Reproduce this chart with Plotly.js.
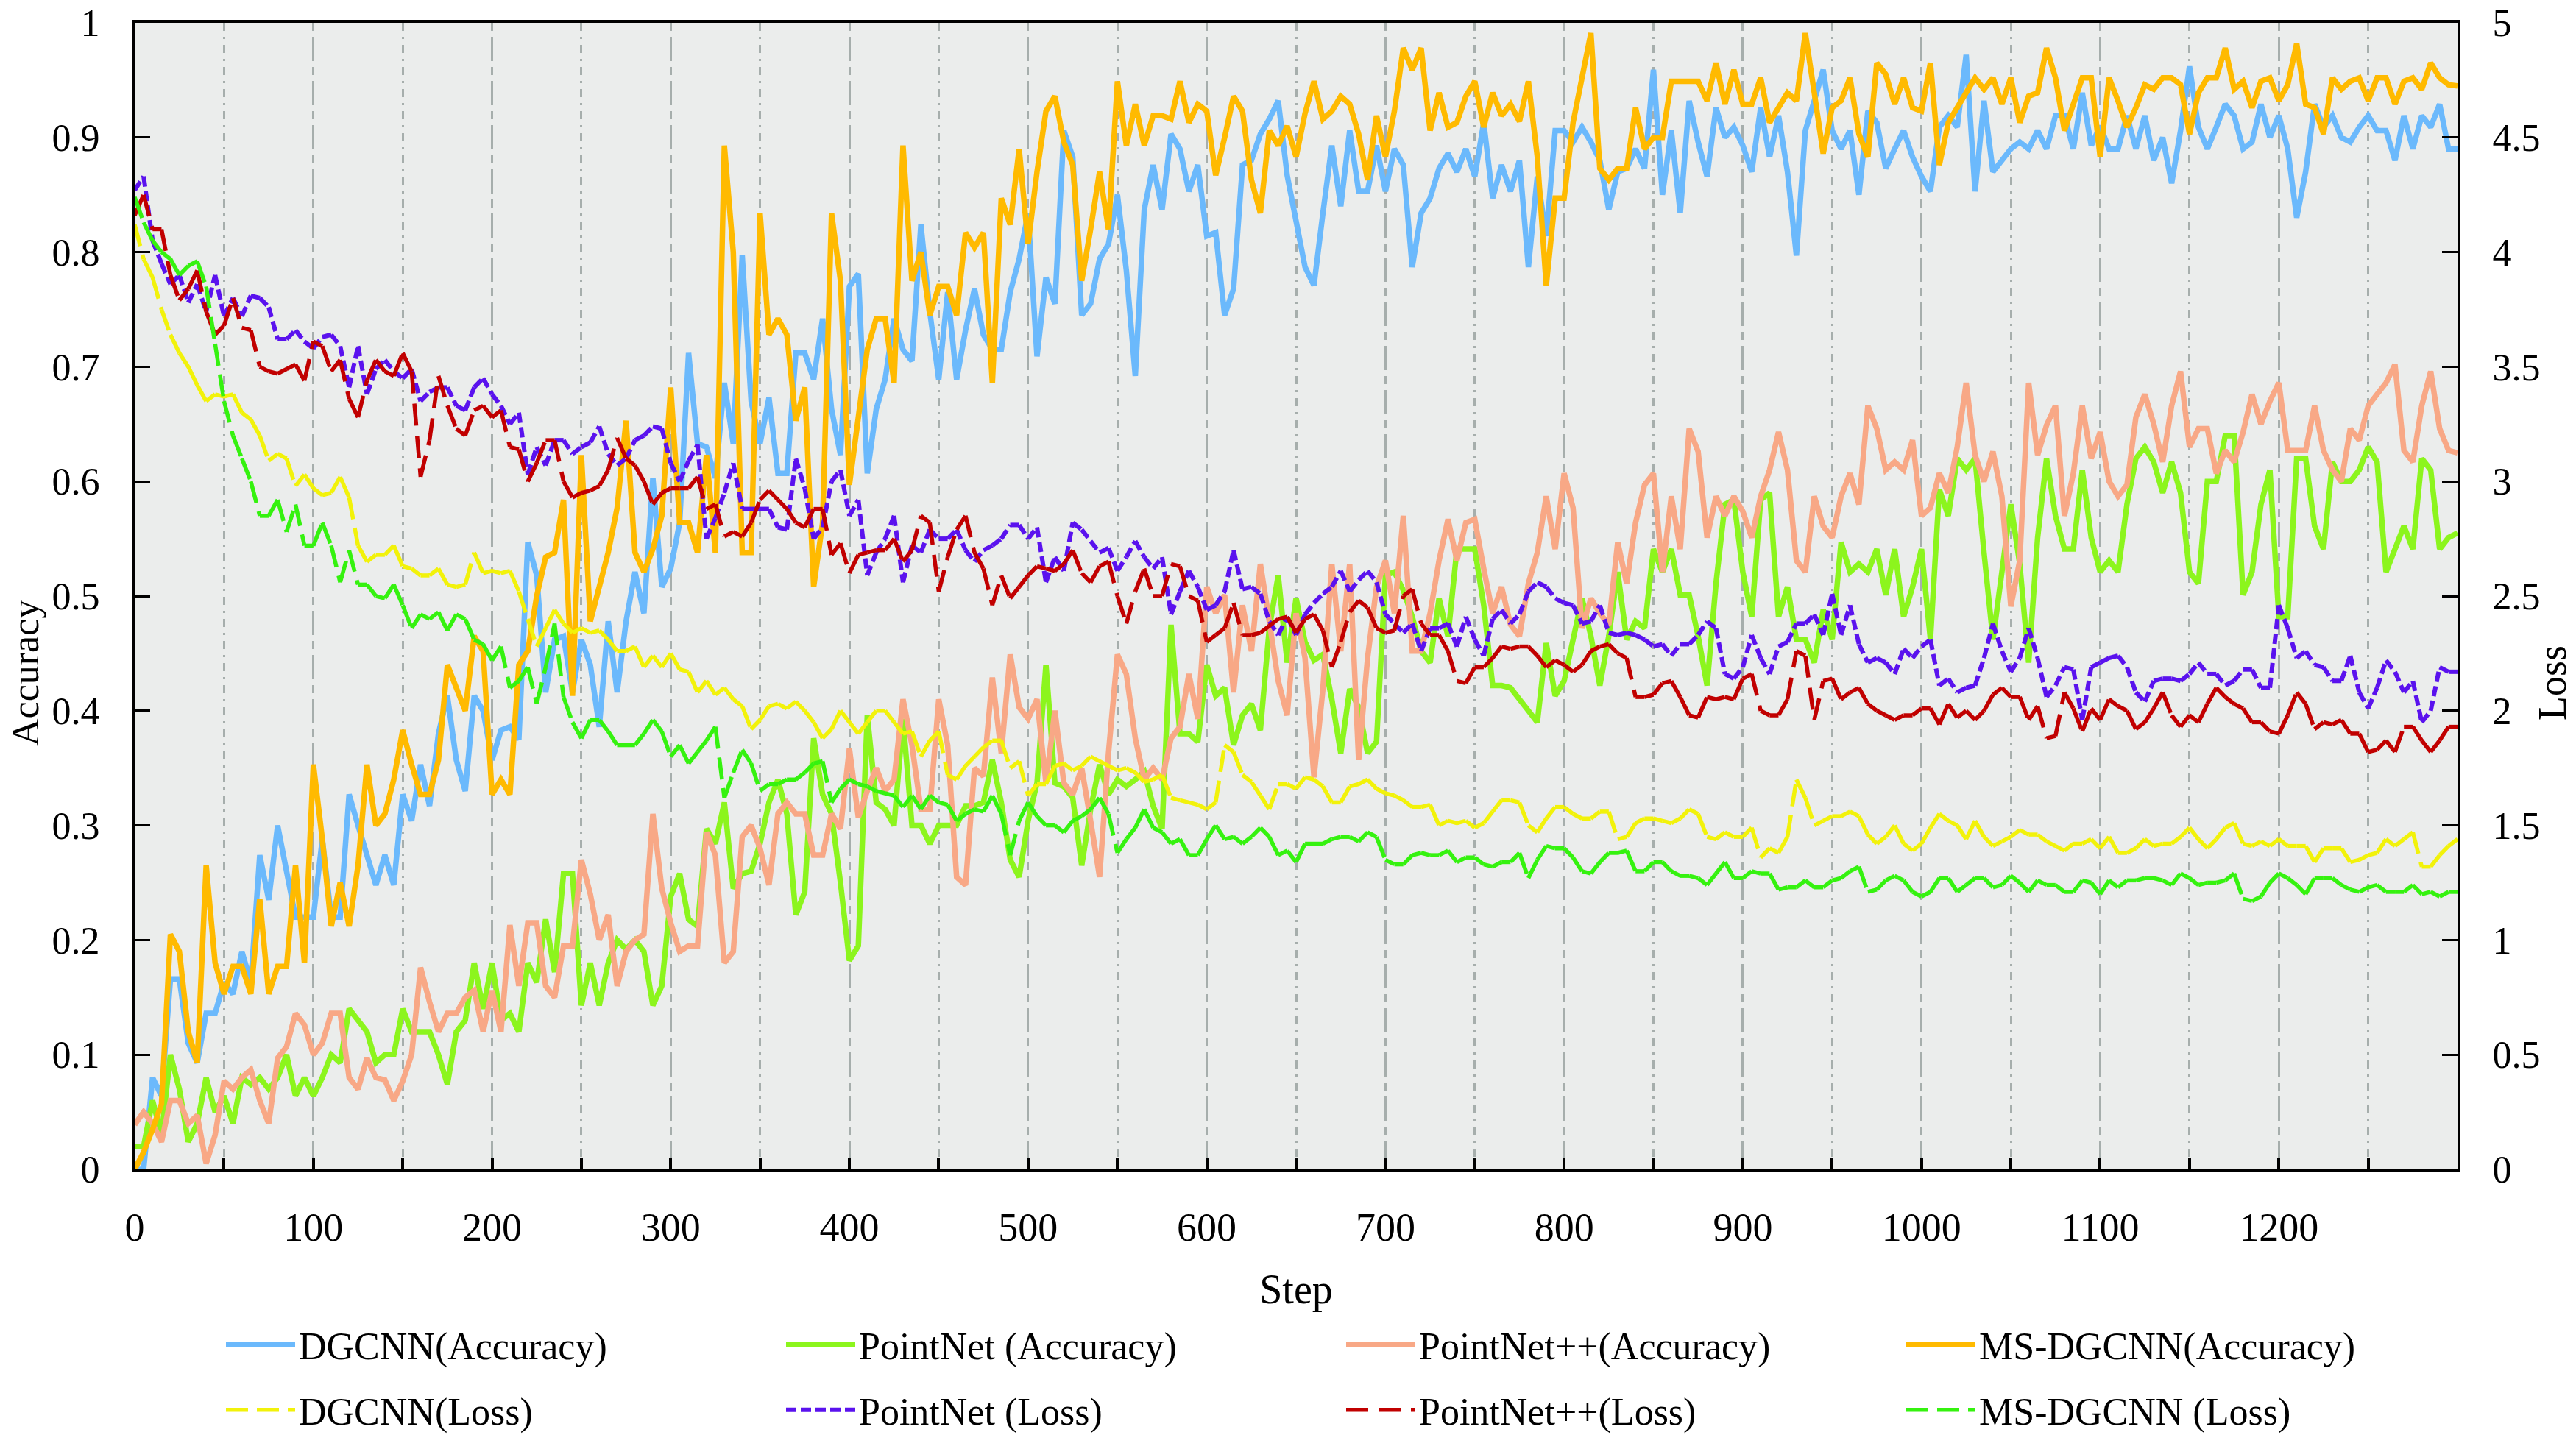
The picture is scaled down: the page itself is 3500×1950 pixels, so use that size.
<!DOCTYPE html>
<html>
<head>
<meta charset="utf-8">
<script src="https://cdn.plot.ly/plotly-3.0.1.min.js"></script>
<style>
html,body{margin:0;padding:0;background:#ffffff;}
#chart{width:3500px;height:1950px;}
</style>
</head>
<body>
<div id="chart"></div>
<script>
// ---- data (one value every 5 steps, step 0 .. 1300) ----
const STEP_INTERVAL = 5;
const xTickVals = [0,100,200,300,400,500,600,700,800,900,1000,1100,1200];
const accTickVals = [0,0.1,0.2,0.3,0.4,0.5,0.6,0.7,0.8,0.9,1];
const lossTickVals = [0,0.5,1,1.5,2,2.5,3,3.5,4,4.5,5];

const dgcnnAcc = [
0.0,0.0,0.08,0.064,0.166,0.166,0.11,0.093,0.136,0.136,
0.163,0.153,0.19,0.163,0.274,0.235,0.30,0.26,0.22,0.22,
0.22,0.288,0.22,0.22,0.327,0.30,0.274,0.248,0.274,0.248,
0.327,0.304,0.353,0.317,0.38,0.413,0.357,0.33,0.413,0.40,
0.357,0.383,0.386,0.375,0.547,0.518,0.416,0.462,0.465,0.416,
0.462,0.44,0.386,0.478,0.416,0.478,0.521,0.485,0.603,0.508,
0.524,0.564,0.712,0.633,0.63,0.603,0.686,0.633,0.797,0.67,
0.633,0.673,0.607,0.607,0.712,0.712,0.689,0.742,0.663,0.623,
0.77,0.781,0.607,0.663,0.689,0.742,0.715,0.705,0.824,0.748,
0.689,0.765,0.689,0.732,0.768,0.728,0.715,0.715,0.765,0.794,
0.834,0.709,0.778,0.755,0.906,0.883,0.745,0.755,0.794,0.807,
0.85,0.784,0.692,0.837,0.876,0.837,0.903,0.89,0.853,0.876,
0.814,0.817,0.745,0.768,0.876,0.88,0.903,0.916,0.932,0.867,
0.827,0.787,0.771,0.834,0.893,0.84,0.906,0.853,0.853,0.893,
0.853,0.89,0.876,0.787,0.834,0.847,0.873,0.886,0.87,0.89,
0.866,0.913,0.847,0.876,0.853,0.88,0.787,0.866,0.814,0.906,
0.906,0.896,0.909,0.896,0.88,0.837,0.87,0.873,0.89,0.873,
0.959,0.85,0.906,0.834,0.932,0.896,0.866,0.926,0.9,0.909,
0.893,0.87,0.926,0.883,0.919,0.87,0.797,0.906,0.932,0.959,
0.906,0.89,0.906,0.85,0.923,0.913,0.873,0.89,0.906,0.883,
0.866,0.853,0.909,0.919,0.909,0.972,0.853,0.932,0.87,0.88,
0.89,0.896,0.89,0.906,0.89,0.919,0.919,0.89,0.939,0.893,
0.91,0.89,0.89,0.919,0.89,0.919,0.88,0.9,0.86,0.906,
0.962,0.909,0.89,0.909,0.929,0.919,0.89,0.896,0.929,0.9,
0.919,0.89,0.83,0.87,0.929,0.909,0.919,0.9,0.896,0.909,
0.919,0.906,0.906,0.88,0.919,0.89,0.919,0.909,0.929,0.89,
0.89];

const pointnetAcc = [
0.02,0.02,0.06,0.03,0.10,0.07,0.024,0.04,0.08,0.05,
0.064,0.04,0.08,0.074,0.08,0.07,0.08,0.10,0.064,0.08,
0.064,0.08,0.10,0.093,0.14,0.13,0.12,0.093,0.10,0.10,
0.14,0.12,0.12,0.12,0.10,0.074,0.12,0.13,0.18,0.14,
0.18,0.13,0.136,0.12,0.18,0.163,0.218,0.172,0.258,0.258,
0.143,0.18,0.143,0.18,0.2,0.192,0.2,0.19,0.143,0.16,
0.238,0.258,0.218,0.212,0.297,0.284,0.32,0.245,0.258,0.26,
0.284,0.32,0.34,0.31,0.222,0.242,0.376,0.327,0.31,0.25,
0.182,0.195,0.396,0.32,0.314,0.30,0.393,0.30,0.30,0.284,
0.30,0.30,0.30,0.317,0.317,0.32,0.357,0.32,0.27,0.255,
0.304,0.337,0.44,0.337,0.334,0.324,0.265,0.314,0.353,0.327,
0.34,0.334,0.34,0.347,0.317,0.297,0.475,0.38,0.38,0.373,
0.44,0.413,0.42,0.37,0.396,0.406,0.383,0.472,0.518,0.442,
0.498,0.46,0.444,0.449,0.41,0.363,0.419,0.403,0.363,0.373,
0.518,0.521,0.505,0.482,0.452,0.442,0.498,0.465,0.541,0.541,
0.541,0.492,0.422,0.422,0.42,0.41,0.40,0.39,0.459,0.413,
0.426,0.462,0.498,0.465,0.422,0.465,0.521,0.462,0.478,0.472,
0.541,0.521,0.541,0.501,0.501,0.465,0.422,0.511,0.58,0.584,
0.521,0.482,0.584,0.59,0.482,0.508,0.462,0.462,0.442,0.488,
0.462,0.547,0.521,0.528,0.521,0.541,0.501,0.541,0.482,0.508,
0.541,0.462,0.593,0.57,0.62,0.61,0.62,0.538,0.462,0.521,
0.58,0.528,0.442,0.551,0.62,0.57,0.541,0.541,0.61,0.551,
0.521,0.531,0.521,0.58,0.62,0.63,0.617,0.59,0.617,0.59,
0.521,0.511,0.6,0.6,0.64,0.64,0.501,0.521,0.58,0.61,
0.482,0.482,0.62,0.62,0.561,0.541,0.617,0.6,0.6,0.61,
0.63,0.617,0.521,0.541,0.561,0.541,0.62,0.61,0.541,0.551,
0.555];

const pointnet2Acc = [
0.039,0.05,0.04,0.024,0.06,0.06,0.04,0.047,0.005,0.03,
0.077,0.07,0.08,0.087,0.06,0.04,0.097,0.107,0.136,0.126,
0.10,0.11,0.136,0.136,0.08,0.07,0.097,0.08,0.078,0.06,
0.077,0.10,0.176,0.146,0.12,0.136,0.136,0.15,0.156,0.12,
0.156,0.12,0.213,0.16,0.215,0.215,0.16,0.15,0.195,0.195,
0.27,0.24,0.2,0.222,0.16,0.19,0.2,0.205,0.31,0.245,
0.215,0.19,0.195,0.195,0.294,0.274,0.18,0.19,0.29,0.30,
0.28,0.248,0.31,0.32,0.31,0.31,0.274,0.274,0.31,0.297,
0.367,0.307,0.33,0.35,0.33,0.34,0.41,0.37,0.314,0.314,
0.41,0.37,0.255,0.248,0.35,0.343,0.429,0.363,0.449,0.403,
0.393,0.41,0.337,0.4,0.337,0.327,0.35,0.304,0.255,0.363,
0.449,0.432,0.376,0.34,0.35,0.34,0.376,0.386,0.432,0.393,
0.508,0.485,0.501,0.416,0.492,0.452,0.528,0.478,0.426,0.396,
0.485,0.446,0.342,0.419,0.528,0.452,0.528,0.357,0.446,0.508,
0.531,0.485,0.57,0.452,0.452,0.485,0.531,0.567,0.531,0.564,
0.567,0.524,0.485,0.508,0.475,0.465,0.511,0.538,0.587,0.541,
0.607,0.577,0.472,0.498,0.485,0.475,0.547,0.511,0.564,0.597,
0.607,0.521,0.587,0.541,0.646,0.626,0.551,0.587,0.57,0.587,
0.574,0.551,0.587,0.61,0.643,0.61,0.531,0.521,0.587,0.561,
0.551,0.587,0.607,0.58,0.666,0.646,0.61,0.617,0.61,0.636,
0.57,0.577,0.607,0.59,0.63,0.686,0.623,0.6,0.626,0.587,
0.491,0.531,0.686,0.623,0.649,0.666,0.57,0.607,0.666,0.62,
0.643,0.6,0.587,0.597,0.656,0.676,0.65,0.617,0.666,0.696,
0.63,0.646,0.646,0.607,0.627,0.617,0.643,0.676,0.65,0.67,
0.686,0.627,0.627,0.627,0.666,0.627,0.61,0.6,0.646,0.636,
0.666,0.676,0.686,0.702,0.627,0.617,0.666,0.696,0.646,0.627,
0.625];

const msdgcnnAcc = [
0.0,0.015,0.035,0.057,0.205,0.19,0.12,0.093,0.265,0.18,
0.153,0.177,0.177,0.153,0.236,0.153,0.177,0.177,0.265,0.18,
0.353,0.288,0.212,0.25,0.212,0.265,0.353,0.30,0.31,0.34,
0.383,0.353,0.327,0.327,0.357,0.44,0.42,0.40,0.465,0.452,
0.327,0.34,0.327,0.44,0.452,0.50,0.534,0.538,0.584,0.413,
0.623,0.478,0.508,0.538,0.577,0.653,0.538,0.521,0.541,0.57,
0.682,0.564,0.564,0.538,0.623,0.538,0.893,0.80,0.538,0.538,
0.834,0.728,0.742,0.728,0.653,0.682,0.508,0.564,0.834,0.775,
0.597,0.656,0.715,0.742,0.742,0.686,0.893,0.775,0.80,0.745,
0.77,0.77,0.745,0.817,0.804,0.817,0.686,0.847,0.824,0.89,
0.807,0.87,0.923,0.936,0.896,0.876,0.775,0.82,0.87,0.82,
0.949,0.893,0.929,0.893,0.919,0.919,0.916,0.949,0.913,0.929,
0.923,0.867,0.9,0.936,0.923,0.863,0.834,0.906,0.893,0.91,
0.883,0.921,0.949,0.916,0.923,0.936,0.929,0.903,0.863,0.919,
0.883,0.923,0.978,0.959,0.978,0.906,0.939,0.909,0.913,0.936,
0.949,0.909,0.939,0.919,0.929,0.914,0.949,0.883,0.771,0.847,
0.847,0.913,0.952,0.991,0.873,0.863,0.873,0.873,0.926,0.89,
0.9,0.9,0.949,0.949,0.949,0.949,0.932,0.965,0.929,0.959,
0.929,0.929,0.952,0.913,0.926,0.939,0.932,0.991,0.939,0.886,
0.926,0.932,0.952,0.903,0.883,0.965,0.955,0.929,0.952,0.926,
0.923,0.965,0.876,0.913,0.926,0.939,0.952,0.942,0.952,0.929,
0.952,0.913,0.936,0.939,0.978,0.952,0.906,0.929,0.952,0.952,
0.883,0.952,0.932,0.909,0.926,0.946,0.942,0.952,0.952,0.946,
0.903,0.939,0.952,0.952,0.978,0.942,0.949,0.926,0.949,0.952,
0.932,0.946,0.982,0.929,0.926,0.903,0.952,0.942,0.949,0.952,
0.932,0.952,0.952,0.929,0.949,0.952,0.942,0.965,0.952,0.946,
0.945];

const dgcnnLoss = [
4.12,3.97,3.89,3.75,3.64,3.56,3.5,3.42,3.35,3.38,
3.37,3.38,3.3,3.27,3.2,3.09,3.12,3.1,2.98,3.03,
2.97,2.94,2.95,3.02,2.93,2.72,2.65,2.68,2.68,2.72,
2.63,2.62,2.59,2.59,2.62,2.55,2.54,2.55,2.69,2.6,
2.61,2.6,2.61,2.52,2.4,2.28,2.36,2.44,2.38,2.34,
2.36,2.34,2.35,2.31,2.26,2.26,2.28,2.19,2.24,2.19,
2.25,2.18,2.17,2.08,2.13,2.07,2.1,2.05,2.02,1.92,
1.96,2.02,2.03,2.01,2.04,2.0,1.95,1.88,1.92,2.0,
1.95,1.9,1.95,2.0,2.0,1.95,1.9,1.91,1.8,1.87,
1.91,1.72,1.7,1.76,1.8,1.84,1.87,1.87,1.75,1.78,
1.63,1.68,1.68,1.76,1.77,1.74,1.76,1.8,1.78,1.76,
1.74,1.75,1.73,1.69,1.7,1.72,1.62,1.61,1.6,1.59,
1.57,1.6,1.85,1.82,1.72,1.69,1.63,1.57,1.68,1.68,
1.66,1.71,1.7,1.67,1.6,1.6,1.67,1.68,1.7,1.66,
1.64,1.63,1.61,1.58,1.58,1.59,1.5,1.52,1.51,1.52,
1.49,1.51,1.56,1.61,1.61,1.6,1.5,1.47,1.53,1.58,
1.58,1.55,1.53,1.53,1.56,1.56,1.44,1.45,1.51,1.53,
1.53,1.52,1.51,1.53,1.57,1.55,1.45,1.44,1.47,1.45,
1.45,1.49,1.36,1.4,1.38,1.45,1.7,1.62,1.5,1.52,
1.54,1.54,1.56,1.54,1.46,1.42,1.45,1.5,1.42,1.39,
1.42,1.49,1.55,1.52,1.5,1.44,1.52,1.45,1.41,1.43,
1.45,1.48,1.46,1.46,1.43,1.41,1.39,1.42,1.42,1.44,
1.4,1.45,1.38,1.38,1.4,1.44,1.41,1.42,1.42,1.45,
1.49,1.44,1.4,1.44,1.49,1.51,1.42,1.41,1.43,1.41,
1.44,1.41,1.41,1.41,1.34,1.4,1.4,1.4,1.34,1.35,
1.37,1.38,1.44,1.41,1.44,1.47,1.32,1.32,1.37,1.41,
1.44];

const pointnetLoss = [
4.27,4.33,4.05,3.95,3.86,3.9,3.78,3.86,3.74,3.9,
3.72,3.8,3.72,3.81,3.8,3.76,3.62,3.62,3.66,3.61,
3.58,3.63,3.64,3.59,3.41,3.59,3.38,3.49,3.53,3.48,
3.45,3.49,3.35,3.39,3.41,3.41,3.33,3.31,3.41,3.45,
3.38,3.33,3.25,3.3,3.03,3.15,3.07,3.18,3.18,3.12,
3.15,3.17,3.24,3.12,3.07,3.1,3.18,3.2,3.24,3.23,
3.08,3.0,3.09,3.16,2.75,2.84,2.95,3.08,2.88,2.88,
2.88,2.88,2.8,2.79,3.1,2.97,2.75,2.8,3.0,3.05,
2.85,2.92,2.59,2.69,2.75,2.85,2.56,2.72,2.69,2.79,
2.75,2.75,2.79,2.7,2.65,2.7,2.72,2.75,2.81,2.81,
2.75,2.8,2.56,2.67,2.61,2.82,2.79,2.74,2.69,2.71,
2.61,2.67,2.74,2.67,2.62,2.67,2.42,2.52,2.61,2.54,
2.44,2.46,2.52,2.7,2.53,2.54,2.51,2.39,2.33,2.41,
2.33,2.42,2.47,2.51,2.54,2.61,2.52,2.57,2.61,2.56,
2.42,2.38,2.34,2.38,2.26,2.36,2.36,2.38,2.28,2.41,
2.31,2.24,2.4,2.44,2.38,2.42,2.52,2.56,2.54,2.49,
2.47,2.46,2.38,2.39,2.46,2.34,2.33,2.34,2.33,2.31,
2.28,2.29,2.24,2.29,2.29,2.33,2.39,2.36,2.16,2.14,
2.19,2.33,2.23,2.16,2.28,2.3,2.38,2.38,2.42,2.33,
2.51,2.33,2.46,2.29,2.21,2.23,2.21,2.16,2.27,2.23,
2.28,2.31,2.11,2.14,2.08,2.1,2.11,2.23,2.38,2.26,
2.17,2.23,2.36,2.23,2.06,2.11,2.19,2.18,1.96,2.19,
2.21,2.23,2.24,2.19,2.08,2.04,2.13,2.14,2.14,2.13,
2.16,2.21,2.16,2.16,2.11,2.13,2.18,2.18,2.1,2.1,
2.46,2.36,2.23,2.26,2.2,2.19,2.13,2.13,2.24,2.08,
2.01,2.1,2.22,2.17,2.08,2.13,1.95,2.0,2.19,2.17,
2.17];

const pointnet2Loss = [
4.16,4.25,4.1,4.1,3.9,3.79,3.84,3.92,3.74,3.64,
3.68,3.8,3.67,3.66,3.5,3.48,3.47,3.49,3.51,3.44,
3.61,3.59,3.48,3.53,3.36,3.28,3.44,3.53,3.48,3.46,
3.56,3.48,3.02,3.18,3.46,3.33,3.23,3.2,3.31,3.33,
3.28,3.31,3.15,3.14,3.0,3.08,3.18,3.18,3.0,2.93,
2.95,2.96,2.98,3.05,3.19,3.1,3.07,3.0,2.9,2.95,
2.97,2.97,2.97,3.02,2.88,2.9,2.76,2.78,2.76,2.82,
2.92,2.96,2.92,2.88,2.82,2.8,2.88,2.88,2.68,2.73,
2.6,2.68,2.69,2.7,2.7,2.75,2.65,2.7,2.85,2.82,
2.52,2.67,2.79,2.85,2.69,2.62,2.46,2.59,2.49,2.54,
2.59,2.63,2.62,2.61,2.64,2.7,2.6,2.56,2.63,2.65,
2.5,2.38,2.52,2.62,2.5,2.5,2.64,2.63,2.5,2.48,
2.3,2.33,2.36,2.47,2.33,2.33,2.34,2.37,2.4,2.41,
2.34,2.4,2.42,2.35,2.19,2.3,2.43,2.48,2.45,2.36,
2.34,2.35,2.5,2.53,2.38,2.33,2.33,2.26,2.13,2.12,
2.19,2.19,2.23,2.28,2.27,2.28,2.28,2.24,2.19,2.22,
2.2,2.17,2.2,2.26,2.28,2.29,2.25,2.23,2.06,2.06,
2.07,2.12,2.13,2.06,1.98,1.97,2.06,2.05,2.06,2.05,
2.14,2.16,2.0,1.98,1.98,2.05,2.26,2.24,1.96,2.13,
2.14,2.05,2.08,2.1,2.03,2.0,1.98,1.96,1.98,1.98,
2.01,2.01,1.94,2.03,1.97,2.0,1.96,2.0,2.07,2.1,
2.06,2.06,1.96,2.02,1.88,1.89,2.08,2.01,1.91,2.01,
1.96,2.05,2.02,2.0,1.92,1.95,2.01,2.08,1.98,1.93,
1.98,1.95,2.03,2.1,2.06,2.03,2.01,1.95,1.95,1.91,
1.9,1.98,2.08,2.03,1.92,1.95,1.94,1.96,1.9,1.9,
1.82,1.83,1.87,1.82,1.93,1.93,1.87,1.82,1.87,1.93,
1.93];

const msdgcnnLoss = [
4.24,4.13,4.05,4.0,3.97,3.9,3.94,3.96,3.85,3.6,
3.35,3.2,3.1,3.0,2.85,2.85,2.92,2.78,2.9,2.72,
2.72,2.82,2.72,2.56,2.7,2.55,2.55,2.5,2.49,2.55,
2.46,2.36,2.42,2.4,2.43,2.35,2.42,2.4,2.31,2.29,
2.22,2.28,2.1,2.13,2.19,2.03,2.19,2.38,2.06,1.95,
1.88,1.96,1.96,1.91,1.85,1.85,1.85,1.9,1.96,1.91,
1.8,1.85,1.77,1.82,1.87,1.93,1.62,1.73,1.83,1.77,
1.65,1.68,1.68,1.7,1.7,1.73,1.77,1.78,1.6,1.66,
1.7,1.68,1.67,1.65,1.64,1.63,1.58,1.63,1.57,1.63,
1.6,1.59,1.52,1.55,1.57,1.56,1.63,1.55,1.37,1.52,
1.6,1.54,1.5,1.5,1.47,1.52,1.54,1.57,1.62,1.55,
1.38,1.44,1.49,1.57,1.49,1.47,1.42,1.44,1.37,1.37,
1.44,1.5,1.44,1.45,1.42,1.45,1.49,1.45,1.37,1.39,
1.34,1.42,1.42,1.42,1.44,1.45,1.45,1.43,1.47,1.45,
1.35,1.33,1.33,1.37,1.38,1.37,1.37,1.39,1.34,1.36,
1.36,1.33,1.32,1.34,1.34,1.38,1.27,1.35,1.41,1.4,
1.4,1.36,1.3,1.29,1.34,1.38,1.38,1.39,1.3,1.3,
1.34,1.34,1.3,1.28,1.28,1.27,1.24,1.29,1.34,1.27,
1.27,1.3,1.29,1.29,1.22,1.23,1.23,1.26,1.23,1.23,
1.26,1.27,1.3,1.32,1.21,1.22,1.26,1.28,1.26,1.21,
1.19,1.21,1.27,1.27,1.21,1.24,1.27,1.27,1.23,1.24,
1.28,1.25,1.21,1.26,1.24,1.24,1.21,1.21,1.26,1.25,
1.2,1.26,1.23,1.26,1.26,1.27,1.27,1.26,1.24,1.29,
1.27,1.24,1.25,1.25,1.26,1.29,1.18,1.17,1.19,1.25,
1.29,1.27,1.24,1.2,1.27,1.27,1.27,1.24,1.22,1.21,
1.23,1.24,1.21,1.21,1.21,1.24,1.2,1.21,1.19,1.21,
1.21];

// ---- build traces ----
const steps = dgcnnAcc.map((_, i) => i * STEP_INTERVAL);

// Each loss segment is its own sub-path so the dash pattern restarts at every point
function splitSegments(xs, ys) {
  const X = [], Y = [];
  for (let i = 0; i < xs.length - 1; i++) {
    X.push(xs[i], xs[i + 1], null);
    Y.push(ys[i], ys[i + 1], null);
  }
  return { X, Y };
}

const FONT = 'Liberation Serif, "Times New Roman", Times, serif';

const accSeries = [
  { name: 'DGCNN(Accuracy)',      y: dgcnnAcc,     color: '#6BB9FC' },
  { name: 'PointNet (Accuracy)',  y: pointnetAcc,  color: '#8CF51D' },
  { name: 'PointNet++(Accuracy)', y: pointnet2Acc, color: '#F8A886' },
  { name: 'MS-DGCNN(Accuracy)',   y: msdgcnnAcc,   color: '#FFBA00' }
];
const lossSeries = [
  { name: 'DGCNN(Loss)',      y: dgcnnLoss,     color: '#F2F20A', dash: '30px,12px', width: 5.5 },
  { name: 'PointNet (Loss)',  y: pointnetLoss,  color: '#5A12EE', dash: '14px,6px',  width: 6 },
  { name: 'PointNet++(Loss)', y: pointnet2Loss, color: '#C10000', dash: '30px,14px', width: 5.5 },
  { name: 'MS-DGCNN (Loss)',  y: msdgcnnLoss,   color: '#35F20F', dash: '30px,12px', width: 5.5 }
];

const traces = [];
accSeries.forEach(s => traces.push({
  type: 'scatter', mode: 'lines', x: steps, y: s.y, name: s.name,
  line: { color: s.color, width: 7.5, simplify: false },
  yaxis: 'y', legend: 'legend', hoverinfo: 'skip'
}));
lossSeries.forEach(s => {
  const seg = splitSegments(steps, s.y);
  traces.push({
    type: 'scatter', mode: 'lines', x: seg.X, y: seg.Y, name: s.name,
    connectgaps: false,
    line: { color: s.color, width: s.width, dash: s.dash, simplify: false },
    yaxis: 'y2', legend: 'legend2', hoverinfo: 'skip'
  });
});

const PLOT_TOP = 31, PLOT_BOTTOM = 1589, PLOT_LEFT = 183, PLOT_RIGHT = 3339;
const PH = PLOT_BOTTOM - PLOT_TOP, PW = PLOT_RIGHT - PLOT_LEFT;
const py = px => (PLOT_BOTTOM - px) / PH;
const pxx = px => (px - PLOT_LEFT) / PW;

const gridColor = '#A6AEAC';
const legendCommon = {
  orientation: 'h', xanchor: 'left', yanchor: 'middle', x: pxx(302),
  entrywidth: 652, entrywidthmode: 'pixels', itemwidth: 94,
  font: { family: FONT, size: 52, color: '#000' },
  bgcolor: 'rgba(0,0,0,0)', borderwidth: 0, traceorder: 'normal'
};

const layout = {
  width: 3500, height: 1950,
  margin: { l: PLOT_LEFT, r: 3500 - PLOT_RIGHT, t: PLOT_TOP, b: 1950 - PLOT_BOTTOM, pad: 0, autoexpand: false },
  paper_bgcolor: '#FFFFFF', plot_bgcolor: '#EBEDEC',
  font: { family: FONT, size: 52, color: '#000' },
  showlegend: true,
  xaxis: {
    range: [0, 1300], tickmode: 'array', tickvals: xTickVals,
    ticks: 'inside', ticklen: 16, tickwidth: 4, tickcolor: '#000',
    showline: true, linewidth: 4, linecolor: '#000', mirror: true,
    showgrid: true, gridcolor: gridColor, gridwidth: 3, griddash: '10px,10px',
    zeroline: false, tickfont: { family: FONT, size: 54 }, ticklabelstandoff: 28,
    ticklabeloverflow: 'allow',
    minor: {
      tickmode: 'linear', tick0: 0, dtick: 50, ticks: 'inside', ticklen: 16, tickwidth: 4, tickcolor: '#000',
      showgrid: true, gridcolor: gridColor, gridwidth: 3, griddash: '11px,8px,3px,8px'
    },
    title: { text: 'Step', font: { family: FONT, size: 56 }, standoff: 36 },
    automargin: false
  },
  yaxis: {
    range: [0, 1], tickmode: 'array', tickvals: accTickVals,
    ticks: 'inside', ticklen: 21, tickwidth: 3, tickcolor: '#000',
    showline: true, linewidth: 3, linecolor: '#000', mirror: true,
    showgrid: false, zeroline: false, tickfont: { family: FONT, size: 52 },
    ticklabelstandoff: 34, ticklabeloverflow: 'allow', automargin: false
  },
  yaxis2: {
    overlaying: 'y', side: 'right', range: [0, 5], tickmode: 'array', tickvals: lossTickVals,
    ticks: 'inside', ticklen: 21, tickwidth: 3, tickcolor: '#000',
    showline: true, linewidth: 3, linecolor: '#000',
    showgrid: false, zeroline: false, tickfont: { family: FONT, size: 52 },
    ticklabelstandoff: 34, ticklabeloverflow: 'allow', automargin: false
  },
  legend: Object.assign({}, legendCommon, { y: py(1827) }),
  legend2: Object.assign({}, legendCommon, { y: py(1916) }),
  annotations: [
    { text: 'Accuracy', xref: 'paper', yref: 'paper', x: pxx(34), y: py(915),
      textangle: -90, showarrow: false, xanchor: 'center', yanchor: 'middle',
      font: { family: FONT, size: 52, color: '#000' } },
    { text: 'Loss', xref: 'paper', yref: 'paper', x: pxx(3468), y: py(928),
      textangle: -90, showarrow: false, xanchor: 'center', yanchor: 'middle',
      font: { family: FONT, size: 54, color: '#000' } }
  ]
};

Plotly.newPlot('chart', traces, layout, { staticPlot: true, displayModeBar: false });
</script>
</body>
</html>
